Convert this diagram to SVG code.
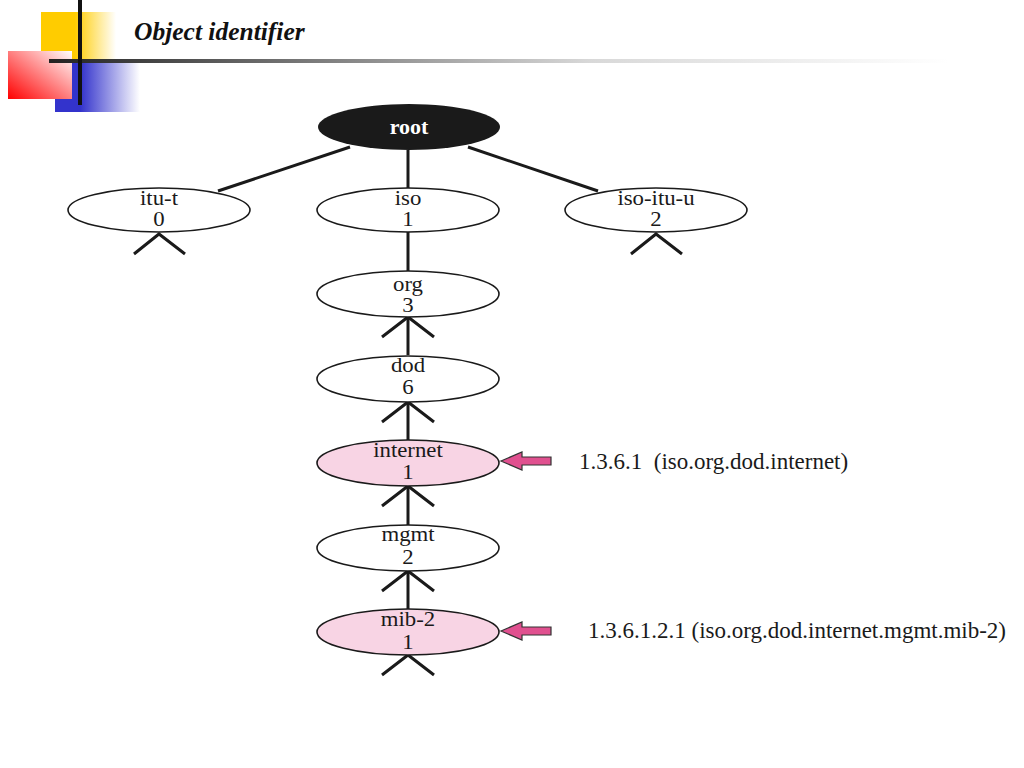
<svg xmlns="http://www.w3.org/2000/svg" width="1024" height="768" viewBox="0 0 1024 768">
<defs>
<linearGradient id="gY" x1="0" y1="0" x2="1" y2="0"><stop offset="0" stop-color="#ffcc00"/><stop offset="0.45" stop-color="#ffcc00"/><stop offset="1" stop-color="#ffffff"/></linearGradient>
<linearGradient id="gB" x1="0" y1="0" x2="1" y2="0"><stop offset="0" stop-color="#3333cc"/><stop offset="0.3" stop-color="#3333cc"/><stop offset="1" stop-color="#ffffff"/></linearGradient>
<linearGradient id="gR" x1="0" y1="1" x2="1" y2="0"><stop offset="0" stop-color="#ff0000"/><stop offset="1" stop-color="#ffffff"/></linearGradient>
<linearGradient id="gL" x1="0" y1="0" x2="1" y2="0"><stop offset="0" stop-color="#222222"/><stop offset="0.6" stop-color="#d8d8d8"/><stop offset="1" stop-color="#ffffff"/></linearGradient>
<style>
.n{fill:#ffffff;stroke:#1a1a1a;stroke-width:1.6}
.p{fill:#f8d4e4;stroke:#1a1a1a;stroke-width:1.6}
.t{font-family:"Liberation Serif","Times New Roman",serif;font-size:20px;fill:#1a1a1a;text-anchor:middle}
.c line,.c polyline{stroke:#1a1a1a;stroke-width:3;fill:none}
.lbl{font-family:"Liberation Serif","Times New Roman",serif;font-size:23px;fill:#1a1a1a}
.ar{fill:#e0508f;stroke:#333333;stroke-width:1.2}
</style>
</defs>
<rect width="1024" height="768" fill="#ffffff"/>
<g id="header">
<rect x="41" y="12" width="75" height="48" fill="url(#gY)"/>
<rect x="55" y="63" width="85" height="49" fill="url(#gB)"/>
<rect x="8" y="51" width="64" height="48" fill="url(#gR)"/>
<rect x="49" y="59" width="900" height="4" fill="url(#gL)"/>
<rect x="78" y="0" width="4" height="105" fill="#111111"/>
<text x="134" y="40" style="font-family:'Liberation Serif','Times New Roman',serif;font-size:25.5px;font-weight:bold;font-style:italic" fill="#111111">Object identifier</text>
</g>
<g id="connectors" class="c">
<line x1="350" y1="147" x2="218" y2="191"/>
<line x1="408" y1="150" x2="408" y2="188"/>
<line x1="468" y1="147" x2="598" y2="191"/>
<polyline points="134,254 159,234 185,254"/>
<polyline points="631,254 656,234 682,254"/>
<line x1="408" y1="232" x2="408" y2="271"/>
<polyline points="382,337 408,317 434,337"/>
<line x1="408" y1="317" x2="408" y2="355"/>
<polyline points="382,422 408,402 434,422"/>
<line x1="408" y1="402" x2="408" y2="440"/>
<polyline points="382,506 408,486 434,506"/>
<line x1="408" y1="486" x2="408" y2="525"/>
<polyline points="382,591 408,571 434,591"/>
<line x1="408" y1="571" x2="408" y2="610"/>
<polyline points="382,675 408,655 434,675"/>
</g>
<g id="root">
<ellipse cx="409" cy="127" rx="91" ry="23" fill="#1a1a1a"/>
<text x="409" y="134" style="font-family:'Liberation Serif','Times New Roman',serif;font-size:22px;font-weight:bold;text-anchor:middle" fill="#ffffff">root</text>
</g>
<g id="itu-t">
<ellipse class="n" cx="159" cy="210" rx="91" ry="22"/>
<g transform="translate(159 0) scale(1.14 1)"><text class="t" x="0" y="205">itu-t</text><text class="t" x="0" y="226">0</text></g>
</g>
<g id="iso">
<ellipse class="n" cx="408" cy="210" rx="91" ry="22"/>
<g transform="translate(408 0) scale(1.14 1)"><text class="t" x="0" y="205">iso</text><text class="t" x="0" y="226">1</text></g>
</g>
<g id="iso-itu-u">
<ellipse class="n" cx="656" cy="210" rx="91" ry="22"/>
<g transform="translate(656 0) scale(1.14 1)"><text class="t" x="0" y="205">iso-itu-u</text><text class="t" x="0" y="226">2</text></g>
</g>
<g id="org">
<ellipse class="n" cx="408" cy="294" rx="91" ry="23"/>
<g transform="translate(408 0) scale(1.14 1)"><text class="t" x="0" y="291">org</text><text class="t" x="0" y="312">3</text></g>
</g>
<g id="dod">
<ellipse class="n" cx="408" cy="379" rx="91" ry="23"/>
<g transform="translate(408 0) scale(1.14 1)"><text class="t" x="0" y="372">dod</text><text class="t" x="0" y="394">6</text></g>
</g>
<g id="internet">
<ellipse class="p" cx="408" cy="463" rx="91" ry="23"/>
<g transform="translate(408 0) scale(1.14 1)"><text class="t" x="0" y="457">internet</text><text class="t" x="0" y="479">1</text></g>
</g>
<g id="mgmt">
<ellipse class="n" cx="408" cy="548" rx="91" ry="23"/>
<g transform="translate(408 0) scale(1.14 1)"><text class="t" x="0" y="541">mgmt</text><text class="t" x="0" y="564">2</text></g>
</g>
<g id="mib-2">
<ellipse class="p" cx="408" cy="632" rx="91" ry="23"/>
<g transform="translate(408 0) scale(1.14 1)"><text class="t" x="0" y="626">mib-2</text><text class="t" x="0" y="649">1</text></g>
</g>
<g id="arrow-internet">
<polygon class="ar" points="501,461 522,452 522,457 551,457 551,465 522,465 522,470"/>
<text class="lbl" x="579" y="469" xml:space="preserve">1.3.6.1  (iso.org.dod.internet)</text>
</g>
<g id="arrow-mib2">
<polygon class="ar" points="501,631 522,622 522,627 551,627 551,635 522,635 522,640"/>
<text class="lbl" x="588" y="638">1.3.6.1.2.1 (iso.org.dod.internet.mgmt.mib-2)</text>
</g>
</svg>
